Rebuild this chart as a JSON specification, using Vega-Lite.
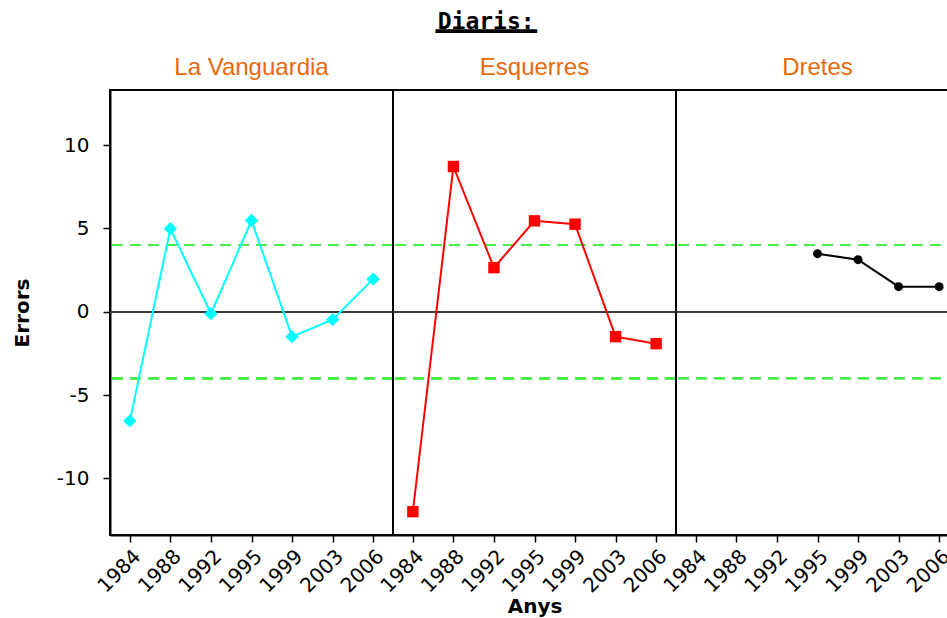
{
  "$schema": "https://vega.github.io/schema/vega-lite/v6.json",
  "padding": {"left": 11, "top": 11, "right": 0, "bottom": 0},
  "background": "white",
  "title": {
    "text": "Diaris:",
    "font": "DejaVu Sans Mono",
    "fontSize": 23,
    "fontWeight": "bold",
    "color": "black",
    "anchor": "middle",
    "offset": -2,
    "subtitle": "\u2594\u2594\u2594\u2594\u2594\u2594\u2594",
    "subtitleFont": "DejaVu Sans Mono",
    "subtitleFontSize": 24,
    "subtitleColor": "black",
    "subtitlePadding": -1
  },
  "data": {"values": [
    {"diari": "La Vanguardia", "any": "1984", "err": -6.55},
    {"diari": "La Vanguardia", "any": "1988", "err": 4.98},
    {"diari": "La Vanguardia", "any": "1992", "err": -0.12},
    {"diari": "La Vanguardia", "any": "1995", "err": 5.47},
    {"diari": "La Vanguardia", "any": "1999", "err": -1.5},
    {"diari": "La Vanguardia", "any": "2003", "err": -0.48},
    {"diari": "La Vanguardia", "any": "2006", "err": 1.95},
    {"diari": "Esquerres", "any": "1984", "err": -12.0},
    {"diari": "Esquerres", "any": "1988", "err": 8.71},
    {"diari": "Esquerres", "any": "1992", "err": 2.64},
    {"diari": "Esquerres", "any": "1995", "err": 5.45},
    {"diari": "Esquerres", "any": "1999", "err": 5.25},
    {"diari": "Esquerres", "any": "2003", "err": -1.5},
    {"diari": "Esquerres", "any": "2006", "err": -1.92},
    {"diari": "Dretes", "any": "1995", "err": 3.48},
    {"diari": "Dretes", "any": "1999", "err": 3.12},
    {"diari": "Dretes", "any": "2003", "err": 1.5},
    {"diari": "Dretes", "any": "2006", "err": 1.5}
  ]},
  "spacing": 0,
  "bounds": "flush",
  "hconcat": [
    {
      "width": 283,
      "height": 445,
      "title": {"text": "La Vanguardia"},
      "transform": [{"filter": "datum.diari === 'La Vanguardia'"}],
      "layer": [
        {"mark": {"type": "rule", "color": "#44EE44", "strokeDash": [11, 7], "strokeWidth": 2}, "encoding": {"y": {"datum": 4, "type": "quantitative"}}},
        {"mark": {"type": "rule", "color": "#44EE44", "strokeDash": [11, 7], "strokeWidth": 2}, "encoding": {"y": {"datum": -4, "type": "quantitative"}}},
        {"mark": {"type": "rule", "color": "#3a3a3a", "strokeWidth": 1.5}, "encoding": {"y": {"datum": 0, "type": "quantitative"}}},
        {
          "mark": {"type": "line", "strokeWidth": 2, "color": "#00FFFF"},
          "encoding": {
            "x": {"field": "any", "type": "ordinal", "title": null, "scale": {"type": "point", "padding": 0.49, "domain": ["1984", "1988", "1992", "1995", "1999", "2003", "2006"]}},
            "y": {"field": "err", "type": "quantitative", "title": "Errors", "scale": {"domain": [-13.4, 13.3], "nice": false, "zero": false},
                  "axis": {"values": [-10, -5, 0, 5, 10], "labelExpr": "datum.value < 0 ? '-' + abs(datum.value) : datum.label"}}
          }
        },
        {
          "mark": {"type": "point", "shape": "diamond", "filled": true, "opacity": 1, "size": 180, "color": "#00FFFF"},
          "encoding": {
            "x": {"field": "any", "type": "ordinal", "title": null},
            "y": {"field": "err", "type": "quantitative"}
          }
        }
      ]
    },
    {
      "width": 283,
      "height": 445,
      "title": {"text": "Esquerres"},
      "transform": [{"filter": "datum.diari === 'Esquerres'"}],
      "layer": [
        {"mark": {"type": "rule", "color": "#44EE44", "strokeDash": [11, 7], "strokeWidth": 2}, "encoding": {"y": {"datum": 4, "type": "quantitative", "axis": null}}},
        {"mark": {"type": "rule", "color": "#44EE44", "strokeDash": [11, 7], "strokeWidth": 2}, "encoding": {"y": {"datum": -4, "type": "quantitative", "axis": null}}},
        {"mark": {"type": "rule", "color": "#3a3a3a", "strokeWidth": 1.5}, "encoding": {"y": {"datum": 0, "type": "quantitative", "axis": null}}},
        {
          "mark": {"type": "line", "strokeWidth": 2, "color": "#FF0000"},
          "encoding": {
            "x": {"field": "any", "type": "ordinal", "title": "Anys", "scale": {"type": "point", "padding": 0.49, "domain": ["1984", "1988", "1992", "1995", "1999", "2003", "2006"]}},
            "y": {"field": "err", "type": "quantitative", "axis": null, "scale": {"domain": [-13.4, 13.3], "nice": false, "zero": false}}
          }
        },
        {
          "mark": {"type": "point", "shape": "square", "filled": true, "opacity": 1, "size": 130, "color": "#FF0000"},
          "encoding": {
            "x": {"field": "any", "type": "ordinal", "title": "Anys"},
            "y": {"field": "err", "type": "quantitative", "axis": null}
          }
        }
      ]
    },
    {
      "width": 283,
      "height": 445,
      "title": {"text": "Dretes"},
      "transform": [{"filter": "datum.diari === 'Dretes'"}],
      "layer": [
        {"mark": {"type": "rule", "color": "#44EE44", "strokeDash": [11, 7], "strokeWidth": 2}, "encoding": {"y": {"datum": 4, "type": "quantitative", "axis": null}}},
        {"mark": {"type": "rule", "color": "#44EE44", "strokeDash": [11, 7], "strokeWidth": 2}, "encoding": {"y": {"datum": -4, "type": "quantitative", "axis": null}}},
        {"mark": {"type": "rule", "color": "#3a3a3a", "strokeWidth": 1.5}, "encoding": {"y": {"datum": 0, "type": "quantitative", "axis": null}}},
        {
          "mark": {"type": "line", "strokeWidth": 2, "color": "#000000"},
          "encoding": {
            "x": {"field": "any", "type": "ordinal", "title": null, "scale": {"type": "point", "padding": 0.49, "domain": ["1984", "1988", "1992", "1995", "1999", "2003", "2006"]}},
            "y": {"field": "err", "type": "quantitative", "axis": null, "scale": {"domain": [-13.4, 13.3], "nice": false, "zero": false}}
          }
        },
        {
          "mark": {"type": "point", "shape": "circle", "filled": true, "opacity": 1, "size": 80, "color": "#000000"},
          "encoding": {
            "x": {"field": "any", "type": "ordinal", "title": null},
            "y": {"field": "err", "type": "quantitative", "axis": null}
          }
        }
      ]
    }
  ],
  "config": {
    "view": {"stroke": "black", "strokeWidth": 2},
    "title": {"color": "#E8690C", "font": "Liberation Sans", "fontSize": 24, "fontWeight": "normal", "offset": 10},
    "axis": {
      "labelFont": "DejaVu Sans",
      "labelFontSize": 20,
      "labelColor": "black",
      "titleFont": "DejaVu Sans",
      "titleFontSize": 20,
      "titleFontWeight": "bold",
      "titleColor": "black",
      "domainColor": "black",
      "domainWidth": 2,
      "tickColor": "black",
      "tickWidth": 1.5,
      "tickSize": 7,
      "grid": false
    },
    "axisX": {"labelAngle": -45, "labelPadding": 4, "titlePadding": 0},
    "axisY": {"labelPadding": 14, "titlePadding": 24}
  }
}
